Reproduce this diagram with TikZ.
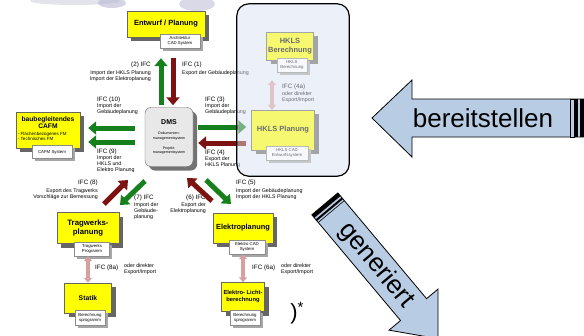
\documentclass[tikz,border=0pt]{standalone}
\usepackage{fontspec}
\setmainfont{Liberation Sans}
\usetikzlibrary{positioning,arrows.meta,shadows}

\definecolor{ifcgreen}{RGB}{22,128,28}
\definecolor{ifcred}{RGB}{125,18,18}
\definecolor{planyellow}{RGB}{255,255,0}
\definecolor{dmsgray}{RGB}{232,232,232}
\definecolor{groupblue}{RGB}{236,240,249}
\definecolor{arrowblue}{RGB}{184,204,228}
\definecolor{linkpink}{RGB}{214,160,160}

\newcommand{\ifchd}[1]{{\fontsize{6.3}{7.5}\selectfont #1}}

\begin{document}
\begin{tikzpicture}[x=1pt, y=-1pt,
  planbox/.style={draw=black!60, fill=planyellow, font=\bfseries\fontsize{7.5}{9}\selectfont, align=center, inner sep=1pt,
    drop shadow={shadow xshift=4pt, shadow yshift=-4pt, fill=black!60, opacity=1}},
  sysbox/.style={draw=black!45, fill=white, font=\fontsize{4.3}{5.2}\selectfont, align=center, inner sep=1pt,
    drop shadow={shadow xshift=2.5pt, shadow yshift=-2.5pt, fill=black!35, opacity=1}},
  dmsbox/.style={draw=black!60, fill=dmsgray, rounded corners=6pt, align=center, inner sep=1pt,
    font=\fontsize{3.6}{4.3}\selectfont,
    drop shadow={shadow xshift=4pt, shadow yshift=-4pt, fill=black!55, opacity=1}},
  lbl/.style={font=\fontsize{5.3}{6}\selectfont, inner sep=0pt},
  ifc/.style={-{Triangle[width=13pt,length=8pt]}, line width=5pt},
  ifcg/.style={ifc, ifcgreen},
  ifcr/.style={ifc, ifcred},
  link/.style={{Triangle[width=8pt,length=5pt]}-{Triangle[width=8pt,length=5pt]}, line width=3.5pt, linkpink},
  bigarrow/.style={draw=black, fill=arrowblue, line width=0.8pt, line join=miter},
  bigtext/.style={font=\fontsize{26}{30}\selectfont, inner sep=0pt}]
\useasboundingbox (0,0) rectangle (584,335);

% faded logo at the top
\fill[blue!20!gray!30, opacity=.6] (75,1) ellipse (45 and 4);
\fill[blue!25!gray!45, opacity=.6] (112,3) ellipse (14 and 5);
\fill[blue!25!gray!40, opacity=.6] (197,4) ellipse (18 and 7);

% HKLS group (background)
\node[fill=groupblue, rounded corners=12pt, minimum width=112, minimum height=172] (hkls) at (293,90) {};
\node[planbox, minimum width=47, minimum height=28] (hber) at (290,46) {HKLS\\Berechnung};
\node[sysbox, minimum width=30, minimum height=14] (hbersys) at (292,65) {HKLS\\Berechnung};
\node[planbox, minimum width=63, minimum height=40] (hplan) at (283,130) {HKLS Planung};
\node[sysbox, minimum width=42, minimum height=14] (hplansys) at (287,153) {HKLS CAD\\Entwurfssystem};
\draw[link, shorten <=8pt] ([xshift=-11pt]hplan.north |- hbersys.south) -- ([xshift=-11pt]hplan.north);
\node[lbl, anchor=north west, align=left] (l4a) at (282,84) {\ifchd{IFC (4a)}\\[1pt]oder direkter\\Export/Import};

% Nodes
\node[planbox, minimum width=78, minimum height=26] (entwurf) at (166,24) {Entwurf / Planung};
\node[sysbox, minimum width=40, minimum height=14] (arch) at (180,41) {Architektur\\CAD System};

\node[dmsbox, minimum width=48, minimum height=59] (dms) at (169,137)
  {{\bfseries\fontsize{7}{8}\selectfont DMS}\\[6pt]Dokumenten-\\managementsystem\\[6pt]Projekt-\\managementsystem};

\node[planbox, minimum width=64, minimum height=36] (cafm) at (48,130)
  {\parbox{60pt}{\centering\fontsize{6.7}{7.6}\selectfont baubegleitendes\\CAFM\par\vspace{1.5pt}\raggedright\mdseries\fontsize{4.5}{5.3}\selectfont - Flächenbezogenes FM\\- Technisches FM\par\vspace{3pt}}};
\node[sysbox, minimum width=40, minimum height=13] (cafmsys) at (52,152) {CAFM System};

\node[planbox, font=\bfseries\fontsize{7.8}{9}\selectfont, minimum width=62, minimum height=31] (trag) at (88,228) {Tragwerks-\\planung};
\node[sysbox, minimum width=35, minimum height=14] (tragsys) at (92,249) {Tragwerks\\Programm};
\node[planbox, font=\bfseries\fontsize{6.8}{8}\selectfont, minimum width=47, minimum height=30] (statik) at (88,298) {Statik};
\node[sysbox, minimum width=30, minimum height=15] (statiksys) at (90,318) {Berechnung\\sprogramm};

\node[planbox, font=\bfseries\fontsize{7.4}{9}\selectfont, minimum width=60, minimum height=30] (elektro) at (243,228) {Elektroplanung};
\node[sysbox, minimum width=36, minimum height=14] (elektrosys) at (247,247) {Elektro CAD\\System};
\node[planbox, font=\bfseries\fontsize{5.8}{7}\selectfont, minimum width=43, minimum height=29] (licht) at (243,297) {Elektro- Licht-\\berechnung};
\node[sysbox, minimum width=30, minimum height=15] (lichtsys) at (245,318) {Berechnung\\sprogramm};

\node[font=\fontsize{22}{24}\selectfont, inner sep=0pt] (stern) at (297,313) {)\raisebox{7pt}{\fontsize{15}{16}\selectfont *}};

% Labels
\node[lbl, anchor=north east, align=right] (l2) at (151,62) {\ifchd{(2) IFC}\\[2pt]Import der HKLS Planung\\Import der Elektroplanung};
\node[lbl, anchor=north west, align=left] (l1) at (182,62) {\ifchd{IFC (1)}\\[2pt]Export der Gebäudeplanung};
\node[lbl, anchor=north west, align=left] (l10) at (97,97) {\ifchd{IFC (10)}\\Import der\\Gebäudeplanung};
\node[lbl, anchor=north west, align=left] (l9) at (97,149) {\ifchd{IFC (9)}\\Import der\\HKLS und\\Elektro Planung};
\node[lbl, anchor=north west, align=left] (l3) at (205,97) {\ifchd{IFC (3)}\\Import der\\Gebäudeplanung};
\node[lbl, anchor=north west, align=left] (l4) at (205,150) {\ifchd{IFC (4)}\\Export der\\HKLS Planung};
\node[lbl, anchor=north east, align=right] (l8) at (98,180) {\ifchd{IFC (8)}\\[2pt]Export des Tragwerks\\Vorschläge zur Bemessung};
\node[lbl, anchor=north west, align=left] (l7) at (134,195) {\ifchd{(7) IFC}\\[1pt]Import der\\Gebäude-\\planung};
\node[lbl, anchor=north east, align=right] (l6) at (206,195) {\ifchd{(6) IFC}\\[1pt]Export der\\Elektroplanung};
\node[lbl, anchor=north west, align=left] (l5) at (236,180) {\ifchd{IFC (5)}\\[2pt]Import der Gebäudeplanung\\Import der HKLS Planung};
\node[lbl, anchor=west] (l8a) at (95,268) {\ifchd{IFC (8a)}};
\node[lbl, anchor=west, align=left] (l8b) at (124,269) {oder direkter\\Export/Import};
\node[lbl, anchor=west] (l6a) at (252,268) {\ifchd{IFC (6a)}};
\node[lbl, anchor=west, align=left] (l6b) at (281,269) {oder direkter\\Export/Import};

% Edges
\draw[ifcg, shorten <=2pt, shorten >=10pt] ([xshift=-8pt]dms.north) -- ([xshift=-8pt]dms.north |- arch.south);
\draw[ifcr, shorten <=10pt, shorten >=2pt] ([xshift=4pt]dms.north |- arch.south) -- ([xshift=4pt]dms.north);
\draw[ifcg, shorten <=5pt, shorten >=5pt] ([yshift=10pt]dms.east) -- ([yshift=10pt]dms.east -| hplan.west);
\draw[ifcr, shorten <=5pt, shorten >=5pt] ([yshift=-6pt]dms.east -| hplan.west) -- ([yshift=-6pt]dms.east);
\draw[ifcg, shorten <=10pt, shorten >=8pt] ([yshift=9pt]dms.west) -- ([yshift=9pt]dms.west -| cafm.east);
\draw[ifcg, shorten <=10pt, shorten >=8pt] ([yshift=-5pt]dms.west) -- ([yshift=-5pt]dms.west -| cafm.east);

\coordinate (d8s) at (104,204);
\coordinate (d8e) at (128,180);
\coordinate (d7s) at (145,181);
\coordinate (d7e) at (120,205);
\coordinate (d6s) at (212,201);
\coordinate (d6e) at (187,178);
\coordinate (d5s) at (206,180);
\coordinate (d5e) at (231,204);
\draw[ifcr] (d8s) -- (d8e);
\draw[ifcg] (d7s) -- (d7e);
\draw[ifcr] (d6s) -- (d6e);
\draw[ifcg] (d5s) -- (d5e);

\draw[link] (statik.north |- tragsys.south) -- (statik.north);
\draw[link] (licht.north |- elektrosys.south) -- (licht.north);

% HKLS group (faded cover)
\draw[line width=1.2pt, fill=groupblue, fill opacity=0.45, rounded corners=12pt] (hkls.south west) rectangle (hkls.north east);

% bereitstellen
\filldraw[bigarrow] (590,99) -- (412,99) -- (412,80) -- (372,118) -- (412,157) -- (412,137) -- (590,137) -- cycle;
\filldraw[bigarrow, line width=0.6pt] (570,99) rectangle (574,137);
\fill (575,99) rectangle (578,137);
\fill (580,99) rectangle (590,137);
\node[bigtext] (bereit) at (483,118) {bereitstellen};

% generiert
\begin{scope}[shift={(330,210)}, rotate=-50]
\filldraw[bigarrow] (-8,-17) -- (130,-17) -- (130,-32) -- (168,0) -- (130,32) -- (130,17) -- (-8,17) -- cycle;
\fill (-8,-17) rectangle (-4,17);
\fill (-2,-17) rectangle (0,17);
\draw[line width=0.6pt] (2,-17) -- (2,17);
\node[bigtext, rotate=-50] (gen) at (72,0) {generiert};
\end{scope}
\end{tikzpicture}
\end{document}
